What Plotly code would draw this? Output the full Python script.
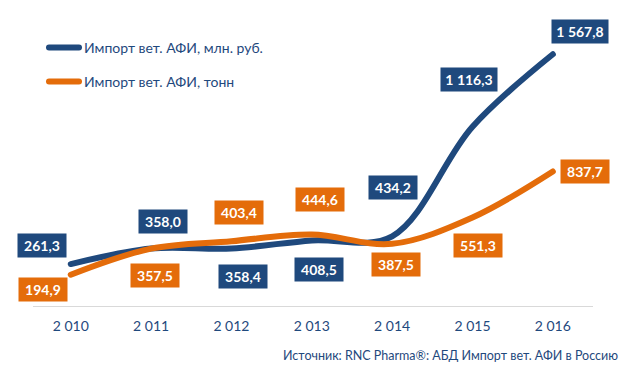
import plotly.graph_objects as go

years = ["2 010", "2 011", "2 012", "2 013", "2 014", "2 015", "2 016"]
rub_values = [261.3, 358.0, 358.4, 408.5, 434.2, 1116.3, 1567.8]
ton_values = [194.9, 357.5, 403.4, 444.6, 387.5, 551.3, 837.7]
rub_labels = ["261,3", "358,0", "358,4", "408,5", "434,2", "1 116,3", "1 567,8"]
ton_labels = ["194,9", "357,5", "403,4", "444,6", "387,5", "551,3", "837,7"]
name_rub = "Импорт вет. АФИ, млн. руб."
name_ton = "Импорт вет. АФИ, тонн"
source_text = "Источник: RNC Pharma®: АБД Импорт вет. АФИ в Россию"

BLUE = "#1F497D"
ORANGE = "#E46C0A"
TEXT = "#1F497D"
FONT = "Lato, 'Noto Sans', sans-serif"

# label offsets (pixels) relative to the data point
rub_shift = [(-29, 19), (12, 27), (12, -28), (7, -29), (1, 49), (-3, 47), (27, 23)]
ton_shift = [(-28, -15), (4, -27), (8, 29), (8, 35), (4, -21), (6, -28), (32, 0)]

x_idx = list(range(len(years)))

fig = go.Figure()
fig.add_trace(go.Scatter(x=x_idx, y=rub_values, mode="lines", name=name_rub,
                         line=dict(color=BLUE, width=6, shape="spline", smoothing=1.0),
                         legend="legend"))
fig.add_trace(go.Scatter(x=x_idx, y=ton_values, mode="lines", name=name_ton,
                         line=dict(color=ORANGE, width=6, shape="spline", smoothing=1.0),
                         legend="legend2"))

annotations = []
for vals, labs, shifts, col in [(rub_values, rub_labels, rub_shift, BLUE),
                                 (ton_values, ton_labels, ton_shift, ORANGE)]:
    for i, (v, lab, (dx, dy)) in enumerate(zip(vals, labs, shifts)):
        w = 56 if len(lab) > 5 else 48
        annotations.append(dict(
            x=i, y=v, xref="x", yref="y", text="<b>%s</b>" % lab, showarrow=False,
            xshift=dx, yshift=dy, bgcolor=col, width=w, height=23,
            align="center", valign="middle", borderpad=0,
            font=dict(family=FONT, size=14, color="white")))

annotations.append(dict(
    xref="paper", yref="paper",
    x=(620 - 33) / (635 - 33 - 42), y=-(355 - (381 - 75)) / (381 - 75 - 17),
    xanchor="right", yanchor="middle",
    text=source_text, showarrow=False,
    font=dict(family=FONT, size=12.5, color=TEXT)))

fig.update_layout(
    width=635, height=381,
    margin=dict(l=33, r=42, t=17, b=75, autoexpand=False),
    paper_bgcolor="white", plot_bgcolor="white",
    showlegend=True,
    legend=dict(x=44 / 635, y=1 - 32 / 381, xref="container", yref="container",
                xanchor="left", yanchor="top", bgcolor="rgba(0,0,0,0)",
                font=dict(family=FONT, size=14, color=TEXT)),
    legend2=dict(x=44 / 635, y=1 - 66 / 381, xref="container", yref="container",
                 xanchor="left", yanchor="top", bgcolor="rgba(0,0,0,0)",
                 font=dict(family=FONT, size=14, color=TEXT)),
    xaxis=dict(range=[-0.47, 6.5], tickmode="array", tickvals=x_idx, ticktext=years,
               showgrid=False, zeroline=False, showline=True, linecolor="#D9D9D9", linewidth=1,
               ticks="", ticklabelstandoff=7,
               tickfont=dict(family=FONT, size=14, color=TEXT),
               fixedrange=True),
    yaxis=dict(range=[0, 1800], visible=False, showgrid=False, zeroline=False, fixedrange=True),
    annotations=annotations,
)

post = (
    "document.body.style.margin='0';"
    "document.querySelectorAll('path.js-line, .legendlines path').forEach(function(p){"
    "p.style.strokeLinecap='round';});"
)
fig.write_html("out.html", config={"displayModeBar": False}, post_script=post)
